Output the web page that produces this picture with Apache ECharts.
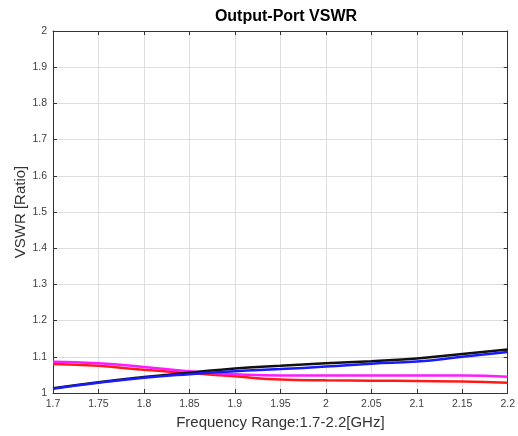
<!DOCTYPE html>
<html>
<head>
<meta charset="utf-8">
<script src="https://cdn.jsdelivr.net/npm/echarts@6/dist/echarts.min.js"></script>
<style>
  html, body { margin: 0; padding: 0; background: #fff; }
  #chart { width: 518px; height: 436px; }
</style>
</head>
<body>
<div id="chart"></div>
<script>
// frequency points (GHz)
const freq = [1.7, 1.75, 1.8, 1.85, 1.9, 1.95, 2.0, 2.05, 2.1, 2.15, 2.2];
// VSWR traces
const blackVals = [1.013, 1.030, 1.044, 1.056, 1.068, 1.075, 1.082, 1.088, 1.095, 1.108, 1.120];
const blueVals = [1.012, 1.028, 1.042, 1.052, 1.060, 1.066, 1.073, 1.081, 1.087, 1.100, 1.113];
const magentaVals = [1.086, 1.082, 1.072, 1.060, 1.052, 1.048, 1.048, 1.048, 1.048, 1.048, 1.045];
const redVals = [1.080, 1.075, 1.064, 1.055, 1.046, 1.037, 1.035, 1.034, 1.033, 1.032, 1.028];

const pairs = (ys) => freq.map((f, i) => [f, ys[i]]);

const fmt = (v) => String(+v.toFixed(2));
const labelFont = { fontSize: 10.5, color: '#404040', fontFamily: 'Arial, Liberation Sans, sans-serif' };

const chart = echarts.init(document.getElementById('chart'));

const mkLine = (name, color, ys) => ({
  name: name,
  type: 'line',
  data: pairs(ys),
  smooth: true,
  showSymbol: false,
  lineStyle: { color: color, width: 2.5 },
  itemStyle: { color: color },
  xAxisIndex: 0,
  yAxisIndex: 0,
});

chart.setOption({
  backgroundColor: '#fff',
  animation: false,
  title: {
    text: 'Output-Port VSWR',
    left: 281,
    textAlign: 'center',
    top: 4,
    textStyle: { fontSize: 16, fontWeight: 'bold', color: '#000', fontFamily: 'Arial, Liberation Sans, sans-serif' },
  },
  grid: { left: 53, right: 9, top: 31, bottom: 43 },
  xAxis: [
    {
      type: 'value',
      min: 1.7,
      max: 2.2,
      interval: 0.05,
      name: 'Frequency Range:1.7-2.2[GHz]',
      nameLocation: 'middle',
      nameGap: 22,
      nameTextStyle: { fontSize: 15, color: '#333', fontFamily: 'Arial, Liberation Sans, sans-serif' },
      axisLine: { show: true, lineStyle: { color: '#333', width: 1 } },
      axisTick: { show: true, inside: true, length: 4, lineStyle: { color: '#333' } },
      axisLabel: Object.assign({ formatter: fmt, margin: 6 }, labelFont),
      splitLine: { show: true, lineStyle: { color: '#dedede', width: 1 } },
    },
    {
      type: 'value',
      position: 'top',
      min: 1.7,
      max: 2.2,
      interval: 0.05,
      axisLine: { show: true, onZero: false, lineStyle: { color: '#333', width: 1 } },
      axisTick: { show: true, inside: true, length: 4, lineStyle: { color: '#333' } },
      axisLabel: { show: false },
      splitLine: { show: false },
    },
  ],
  yAxis: [
    {
      type: 'value',
      min: 1,
      max: 2,
      interval: 0.1,
      name: 'VSWR [Ratio]',
      nameLocation: 'middle',
      nameGap: 25,
      nameMoveOverlap: false,
      nameTextStyle: { fontSize: 15, color: '#333', fontFamily: 'Arial, Liberation Sans, sans-serif' },
      axisLine: { show: true, lineStyle: { color: '#333', width: 1 } },
      axisTick: { show: true, inside: true, length: 4, lineStyle: { color: '#333' } },
      axisLabel: Object.assign({ formatter: fmt, margin: 6 }, labelFont),
      splitLine: { show: true, lineStyle: { color: '#dedede', width: 1 } },
    },
    {
      type: 'value',
      position: 'right',
      min: 1,
      max: 2,
      interval: 0.1,
      axisLine: { show: true, onZero: false, lineStyle: { color: '#333', width: 1 } },
      axisTick: { show: true, inside: true, length: 4, lineStyle: { color: '#333' } },
      axisLabel: { show: false },
      splitLine: { show: false },
    },
  ],
  series: [
    mkLine('red', '#ff1a1a', redVals),
    mkLine('magenta', '#ff1aff', magentaVals),
    mkLine('black', '#111111', blackVals),
    mkLine('blue', '#1a1aff', blueVals),
  ],
});
</script>
</body>
</html>
